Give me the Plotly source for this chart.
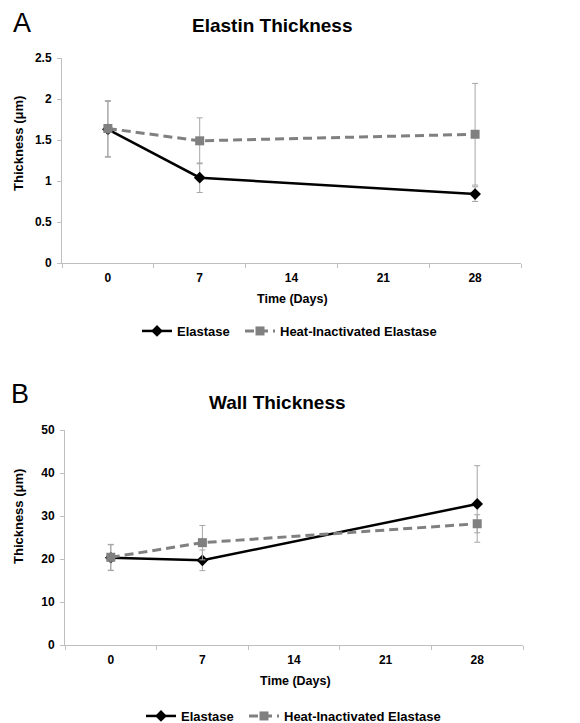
import plotly.graph_objects as go

W, H = 580, 723
OFF = 8  # page body margin in the browser

days = ["0", "7", "14", "21", "28"]
measured_days = ["0", "7", "28"]

elastin_elastase = [1.63, 1.04, 0.84]
elastin_elastase_err = [0.34, 0.18, 0.09]
elastin_heat = [1.64, 1.49, 1.57]
elastin_heat_err = [0.34, 0.28, 0.62]

wall_elastase = [20.3, 19.7, 32.8]
wall_elastase_err = [3.0, 2.4, 8.9]
wall_heat = [20.4, 23.8, 28.2]
wall_heat_err = [3.0, 4.0, 2.1]

series_names = ["Elastase", "Heat-Inactivated Elastase"]
titles = ["Elastin Thickness", "Wall Thickness"]
panel_letters = ["A", "B"]
x_title = "Time (Days)"
y_title = "Thickness (μm)"

FONT = "Liberation Sans, Arial, sans-serif"
AXC = "#bfbfbf"
ERRC = "#a6a6a6"


def fx(px):
    return (px - OFF) / W


def fy(py):
    return 1 - (py - OFF) / H


fig = go.Figure()


def add_pair(el, el_err, ht, ht_err, xa, ya, leg_el, leg_ht):
    fig.add_trace(go.Scatter(
        x=measured_days, y=el, name=series_names[0], xaxis=xa, yaxis=ya,
        mode="lines+markers", legend=leg_el, showlegend=True,
        line=dict(color="black", width=2.5),
        marker=dict(symbol="diamond", size=9, color="black"),
        error_y=dict(type="data", array=el_err, visible=True,
                     color=ERRC, thickness=1, width=3),
    ))
    fig.add_trace(go.Scatter(
        x=measured_days, y=ht, name=series_names[1], xaxis=xa, yaxis=ya,
        mode="lines+markers", legend=leg_ht, showlegend=True,
        line=dict(color="#808080", width=3, dash="9px,5px"),
        marker=dict(symbol="square", size=9, color="#808080"),
        error_y=dict(type="data", array=ht_err, visible=True,
                     color=ERRC, thickness=1, width=3),
    ))


add_pair(elastin_elastase, elastin_elastase_err, elastin_heat, elastin_heat_err,
         "x", "y", "legend", "legend2")
add_pair(wall_elastase, wall_elastase_err, wall_heat, wall_heat_err,
         "x2", "y2", "legend3", "legend4")

tickfont = dict(family=FONT, size=12, color="black", weight="bold")

xcommon = dict(type="category", categoryorder="array", categoryarray=days,
               range=[-0.5, 4.5], autorange=False,
               tickson="boundaries", ticks="outside", ticklen=4, tickcolor=AXC,
               showline=True, linecolor=AXC, linewidth=1, showgrid=False,
               zeroline=False, tickfont=tickfont, ticklabelstandoff=4,
               fixedrange=True)
ycommon = dict(ticks="outside", ticklen=4, tickcolor=AXC, showline=True,
               linecolor=AXC, linewidth=1, showgrid=False, zeroline=False,
               tickfont=tickfont, ticklabelstandoff=3, fixedrange=True)

legfont = dict(family=FONT, size=13, color="black", weight="bold")


def leg(text_left, ymid):
    return dict(orientation="h", x=fx(text_left - 41), xanchor="left",
                y=fy(ymid), yanchor="middle", font=legfont,
                bgcolor="rgba(0,0,0,0)")


fig.update_layout(
    width=W, height=H, margin=dict(l=0, r=0, t=0, b=0, autoexpand=False),
    paper_bgcolor="white", plot_bgcolor="white", showlegend=True,
    font=dict(family=FONT, color="black"),
    xaxis=dict(domain=[fx(62), fx(521)], anchor="y", **xcommon),
    yaxis=dict(domain=[fy(263), fy(58)], anchor="x", range=[0, 2.5], dtick=0.5, **ycommon),
    xaxis2=dict(domain=[fx(65), fx(523)], anchor="y2", **xcommon),
    yaxis2=dict(domain=[fy(645), fy(430)], anchor="x2", range=[0, 50], dtick=10, **ycommon),
    legend=leg(178, 331),
    legend2=leg(281, 331),
    legend3=leg(182, 716),
    legend4=leg(285, 716),
)

ann = []
# titles
ann.append(dict(text=titles[0], x=fx(272), y=fy(25), font=dict(size=19, weight="bold")))
ann.append(dict(text=titles[1], x=fx(277), y=fy(402.5), font=dict(size=19, weight="bold")))
# letters
ann.append(dict(text=panel_letters[0], x=fx(22), y=fy(23), font=dict(size=27)))
ann.append(dict(text=panel_letters[1], x=fx(20), y=fy(394), font=dict(size=27)))
# x titles
ann.append(dict(text=x_title, x=fx(292), y=fy(298.5), font=dict(size=12.5, weight="bold")))
ann.append(dict(text=x_title, x=fx(295), y=fy(681), font=dict(size=12.5, weight="bold")))
# y titles
ann.append(dict(text=y_title, x=fx(18), y=fy(144), textangle=-90, font=dict(size=13, weight="bold")))
ann.append(dict(text=y_title, x=fx(18), y=fy(517), textangle=-90, font=dict(size=13, weight="bold")))

for a in ann:
    a.update(xref="paper", yref="paper", showarrow=False, xanchor="center", yanchor="middle")
    a["font"].update(family=FONT, color="black")
    fig.add_annotation(**a)

fig.write_html("out.html")
